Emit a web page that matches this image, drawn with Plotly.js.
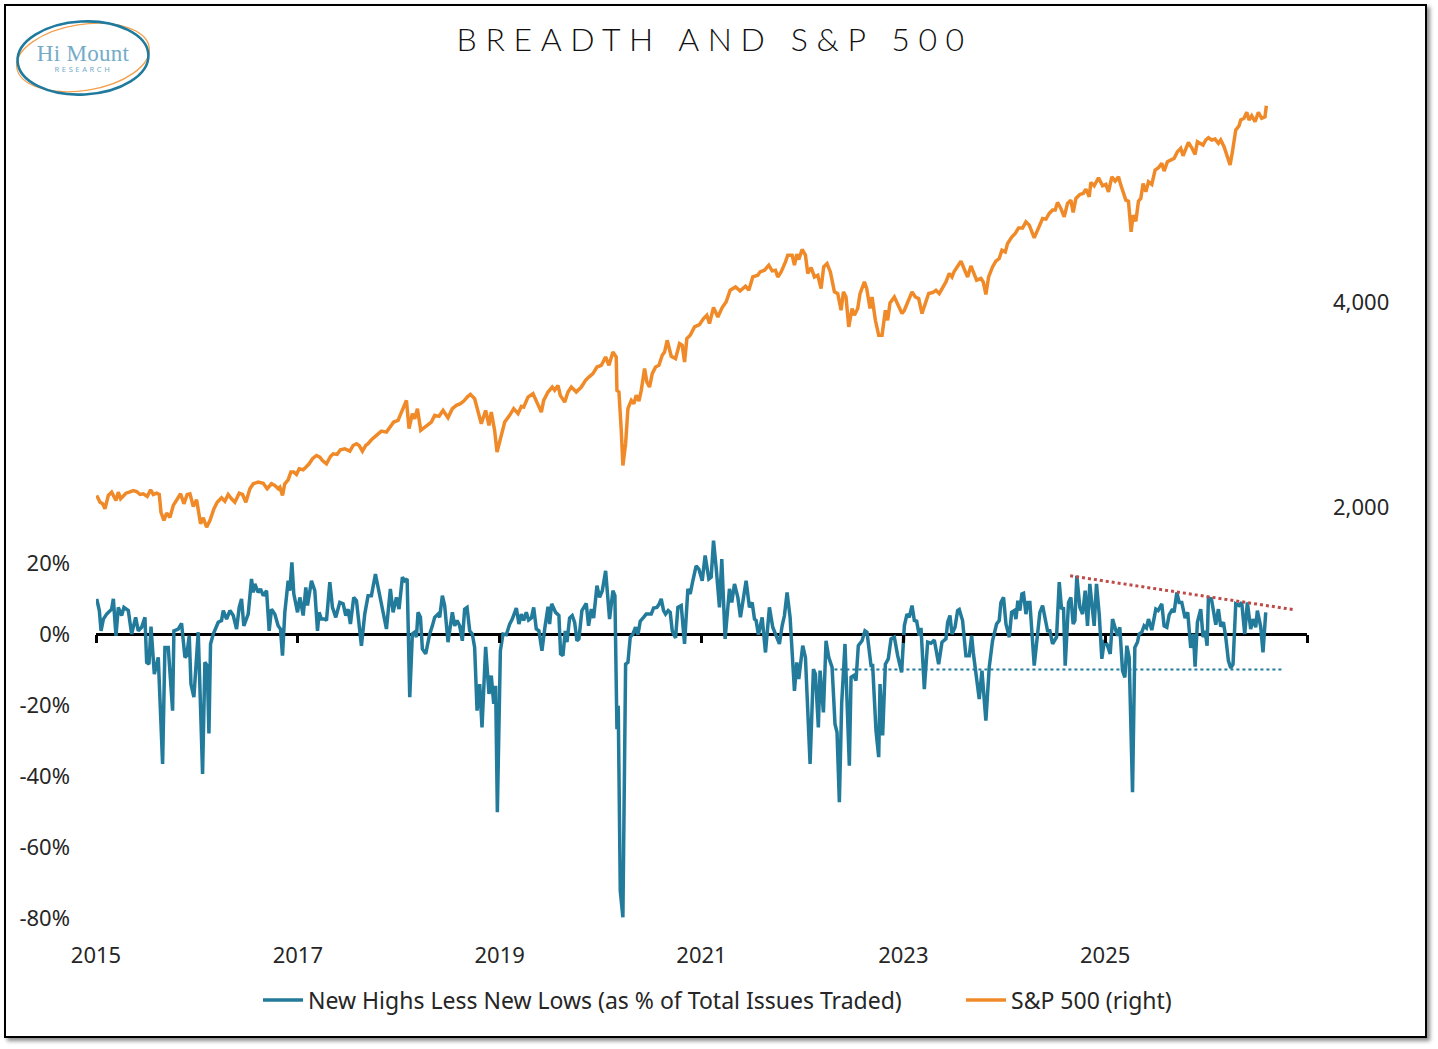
<!DOCTYPE html>
<html>
<head>
<meta charset="utf-8">
<script src="https://cdn.plot.ly/plotly-3.0.1.min.js"></script>
<style>
  html, body { margin: 0; padding: 0; background: #ffffff; }
  #frame {
    position: absolute; left: 4px; top: 4px; width: 1419px; height: 1030px;
    border: 2px solid #000000; box-shadow: 3px 3px 4px rgba(0, 0, 0, 0.45);
    background: #ffffff;
  }
  #chart { position: absolute; left: 0; top: 0; width: 1438px; height: 1049px; }
  #chart .gtitle { letter-spacing: 0.27em; }
  #chart g.annotation[data-index="1"] text { letter-spacing: 2.6px; }
  #chart g.annotation[data-index="0"] text { letter-spacing: 0.3px; }
</style>
</head>
<body>
<div id="frame"></div>
<div id="chart"></div>
<script>
// ------------------------------------------------------------------------------
// DATA (x in decimal years)

// New highs less new lows, % of total issues traded (left axis)
const breadthYears = [
  2015.007, 2015.033, 2015.050, 2015.073, 2015.106, 2015.155, 2015.172, 2015.198, 2015.221, 2015.254,
  2015.277, 2015.320, 2015.353, 2015.393, 2015.419, 2015.452, 2015.485, 2015.502, 2015.525, 2015.545,
  2015.578, 2015.617, 2015.660, 2015.683, 2015.716, 2015.759, 2015.772, 2015.815, 2015.848, 2015.881,
  2015.898, 2015.924, 2015.941, 2015.970, 2016.013, 2016.056, 2016.079, 2016.102, 2016.119, 2016.135,
  2016.162, 2016.211, 2016.244, 2016.261, 2016.294, 2016.327, 2016.360, 2016.393, 2016.419, 2016.442,
  2016.465, 2016.508, 2016.541, 2016.558, 2016.574, 2016.607, 2016.630, 2016.657, 2016.690, 2016.716,
  2016.739, 2016.772, 2016.805, 2016.828, 2016.848, 2016.871, 2016.904, 2016.921, 2016.941, 2016.960,
  2016.997, 2017.020, 2017.053, 2017.079, 2017.096, 2017.135, 2017.168, 2017.195, 2017.211, 2017.234,
  2017.267, 2017.284, 2017.317, 2017.343, 2017.376, 2017.416, 2017.449, 2017.475, 2017.498, 2017.521,
  2017.554, 2017.581, 2017.630, 2017.663, 2017.696, 2017.729, 2017.769, 2017.795, 2017.828, 2017.878,
  2017.917, 2017.944, 2017.977, 2018.003, 2018.036, 2018.059, 2018.083, 2018.109, 2018.135, 2018.158,
  2018.175, 2018.191, 2018.215, 2018.234, 2018.267, 2018.307, 2018.333, 2018.356, 2018.389, 2018.406,
  2018.432, 2018.455, 2018.488, 2018.531, 2018.554, 2018.578, 2018.604, 2018.630, 2018.653, 2018.677,
  2018.703, 2018.729, 2018.752, 2018.776, 2018.802, 2018.825, 2018.861, 2018.894, 2018.917, 2018.941,
  2018.960, 2018.977, 2019.007, 2019.033, 2019.066, 2019.099, 2019.125, 2019.165, 2019.191, 2019.215,
  2019.238, 2019.264, 2019.287, 2019.314, 2019.337, 2019.363, 2019.389, 2019.419, 2019.446, 2019.479,
  2019.495, 2019.515, 2019.554, 2019.587, 2019.604, 2019.627, 2019.650, 2019.667, 2019.693, 2019.719,
  2019.743, 2019.766, 2019.785, 2019.815, 2019.858, 2019.881, 2019.908, 2019.931, 2019.964, 2019.990,
  2020.017, 2020.050, 2020.089, 2020.122, 2020.142, 2020.162, 2020.175, 2020.195, 2020.221, 2020.248,
  2020.271, 2020.294, 2020.320, 2020.347, 2020.370, 2020.393, 2020.426, 2020.452, 2020.502, 2020.525,
  2020.558, 2020.578, 2020.601, 2020.624, 2020.644, 2020.670, 2020.690, 2020.710, 2020.743, 2020.766,
  2020.799, 2020.832, 2020.865, 2020.888, 2020.914, 2020.947, 2020.974, 2021.007, 2021.036, 2021.073,
  2021.096, 2021.119, 2021.145, 2021.178, 2021.201, 2021.234, 2021.277, 2021.300, 2021.327, 2021.360,
  2021.386, 2021.442, 2021.475, 2021.502, 2021.525, 2021.541, 2021.564, 2021.601, 2021.634, 2021.673,
  2021.706, 2021.746, 2021.772, 2021.799, 2021.822, 2021.848, 2021.878, 2021.921, 2021.944, 2021.964,
  2022.003, 2022.030, 2022.076, 2022.109, 2022.129, 2022.158, 2022.175, 2022.208, 2022.234, 2022.261,
  2022.294, 2022.323, 2022.343, 2022.366, 2022.389, 2022.422, 2022.465, 2022.482, 2022.508, 2022.531,
  2022.554, 2022.591, 2022.620, 2022.640, 2022.680, 2022.696, 2022.729, 2022.756, 2022.769, 2022.795,
  2022.822, 2022.851, 2022.878, 2022.911, 2022.944, 2022.983, 2023.010, 2023.036, 2023.059, 2023.086,
  2023.109, 2023.132, 2023.158, 2023.175, 2023.208, 2023.241, 2023.274, 2023.307, 2023.350, 2023.383,
  2023.422, 2023.439, 2023.462, 2023.482, 2023.512, 2023.538, 2023.554, 2023.587, 2023.620, 2023.653,
  2023.677, 2023.693, 2023.713, 2023.752, 2023.779, 2023.818, 2023.851, 2023.884, 2023.924, 2023.950,
  2023.967, 2023.993, 2024.017, 2024.050, 2024.073, 2024.099, 2024.116, 2024.135, 2024.155, 2024.175,
  2024.191, 2024.215, 2024.234, 2024.254, 2024.297, 2024.330, 2024.353, 2024.380, 2024.406, 2024.429,
  2024.452, 2024.479, 2024.518, 2024.545, 2024.568, 2024.587, 2024.604, 2024.637, 2024.660, 2024.683,
  2024.700, 2024.719, 2024.749, 2024.776, 2024.802, 2024.825, 2024.848, 2024.868, 2024.891, 2024.914,
  2024.941, 2024.967, 2024.990, 2025.017, 2025.050, 2025.073, 2025.099, 2025.122, 2025.145, 2025.172,
  2025.195, 2025.215, 2025.238, 2025.254, 2025.271, 2025.294, 2025.320, 2025.337, 2025.363, 2025.386,
  2025.409, 2025.429, 2025.462, 2025.502, 2025.525, 2025.561, 2025.584, 2025.611, 2025.634, 2025.667,
  2025.683, 2025.710, 2025.733, 2025.759, 2025.792, 2025.818, 2025.848, 2025.875, 2025.891, 2025.914,
  2025.947, 2025.970, 2025.990, 2026.010, 2026.023, 2026.053, 2026.096, 2026.122, 2026.145, 2026.172,
  2026.195, 2026.221, 2026.244, 2026.267, 2026.294, 2026.327, 2026.353, 2026.383, 2026.409, 2026.442,
  2026.465, 2026.492, 2026.508, 2026.541, 2026.564, 2026.591
];
const breadthPct = [
  9.9, 6.6, 0.9, 4.2, 5.6, 7.0, 9.9, -0.5, 7.5, 5.2,
  7.5, 6.6, 0, 4.7, 0.9, 1.9, 4.7, -8.0, -8.5, 2.1,
  -11.3, -6.6, -36.6, -3.8, -3.8, -21.6, 0.9, 1.4, 3.0, -6.6,
  -6.1, -0.5, -14.1, -17.8, 0.5, -39.4, -8.0, -8.9, -28.0, -2.8,
  0, 3.3, 3.8, 6.6, 4.2, 6.6, 5.2, 1.4, 7.5, 9.9,
  2.3, 5.6, 15.5, 11.7, 14.1, 11.7, 12.7, 10.8, 12.2, 0.9,
  7.0, 5.6, 2.3, 1.4, -6.1, 6.1, 15.0, 12.2, 20.2, 11.3,
  6.1, 10.3, 5.2, 13.1, 8.0, 15.0, 12.2, 0.9, 6.1, 4.2,
  4.2, 3.8, 14.6, 7.5, 4.7, 8.9, 8.5, 5.2, 7.0, 2.8,
  10.3, 9.4, -3.3, 5.6, 10.8, 10.8, 16.9, 13.1, 8.0, 1.4,
  12.7, 6.1, 10.3, 7.0, 16.0, 15.0, 15.5, -17.8, 0, 0.5,
  -0.9, 6.1, 4.7, -4.2, -5.6, 0, 2.3, 4.7, 5.6, 4.7,
  10.8, 8.0, -2.3, 6.1, 2.3, 3.8, 2.3, -1.9, 7.0, 7.5,
  0.9, 0, -3.8, -21.6, -14.1, -26.3, -3.6, -16.9, -11.7, -19.7,
  -14.6, -50.2, -4.7, 0, -0.2, 2.8, 4.2, 7.3, 2.8, 5.6,
  3.8, 6.1, 3.9, 4.5, 7.5, 1.4, 0.9, -4.7, 1.4, 7.7,
  2.8, 8.5, 6.1, 5.2, -5.6, -6.1, 0.9, -2.3, 4.5, 5.2,
  3.3, -1.9, -1.4, 6.6, 8.6, 2.3, 7.0, 4.5, 13.6, 10.3,
  12.2, 17.8, 4.2, 12.2, 10.8, -26.8, -20.2, -72.3, -79.8, -8.5,
  -8.0, -0.9, 0, 1.9, -0.2, 3.6, 4.7, 5.6, 5.6, 7.3,
  7.5, 8.3, 9.9, 6.6, 5.6, 6.6, 6.1, 0.9, -1.1, 7.5,
  8.0, -2.8, 12.7, 11.3, 15.0, 19.2, 18.3, 15.0, 22.1, 15.5,
  16.0, 26.3, 18.8, 7.5, 21.1, -1.4, 12.7, 8.9, 14.1, 10.3,
  4.7, 15.0, 7.5, 8.9, 4.2, 3.8, -0.2, 4.7, -5.2, 7.5,
  1.9, -0.9, -2.8, 2.3, 5.2, 11.7, 4.7, -16.0, -8.0, -12.7,
  -3.3, -6.6, -36.6, -9.9, -11.3, -26.3, -10.3, -22.1, -1.9, -6.6,
  -9.4, -25.4, -27.7, -47.4, -19.7, -2.8, -37.1, -12.2, -11.7, -13.1,
  -3.3, -1.9, 0.9, 0.5, -8.9, -8.9, -27.2, -34.7, -14.1, -28.6,
  -8.5, -7.0, -1.4, -0.9, -6.1, -10.8, 2.3, 5.6, 4.7, 8.0,
  3.8, 3.6, -0.5, 1.7, -15.5, -2.3, -2.6, -1.7, -8.5, -2.3,
  -1.4, 3.3, 5.2, 0, 1.9, 6.6, 6.9, 3.8, -6.1, -6.1,
  -0.5, -5.2, -9.4, -18.3, -10.3, -24.4, -9.4, -1.9, 2.8, 3.8,
  8.9, 10.3, 2.8, -0.9, 6.1, 6.6, 4.2, 9.4, 6.6, 11.3,
  11.5, 5.6, 8.9, 8.9, -8.9, 0, 6.1, 8.0, 4.2, 0.9,
  0.9, -2.8, -0.9, 14.6, 7.0, 7.5, -8.9, 8.9, 10.3, 2.8,
  3.8, 16.4, 7.5, 5.6, 12.2, 2.3, 14.1, 9.4, 2.3, 14.1,
  5.6, -7.0, -2.3, -2.8, -5.6, 4.2, 1.9, -0.5, 1.9, -10.3,
  -12.2, -3.3, -6.6, -30.0, -44.6, -3.8, -2.3, 0, 0.5, 2.3,
  1.7, 4.2, 1.1, 7.0, 6.6, 8.5, 2.3, 1.9, 5.4, 7.0,
  6.1, 11.7, 8.9, 8.9, 4.5, 6.1, -3.9, 0, -9.2, 3.3,
  7.0, -0.9, 0.9, -3.3, 10.1, 9.9, 2.6, 7.0, 2.1, 3.3,
  -0.9, -7.5, -9.6, -8.5, 8.5, 8.0, 8.9, 0, 8.9, 1.4,
  4.2, 1.9, 6.6, 2.1, -5.2, 6.1
];

// S&P 500 index level (right axis, log scale)
const spxYears = [
  2015.007, 2015.040, 2015.066, 2015.089, 2015.122, 2015.155, 2015.198, 2015.221, 2015.244, 2015.271,
  2015.297, 2015.330, 2015.370, 2015.403, 2015.436, 2015.469, 2015.508, 2015.541, 2015.568, 2015.601,
  2015.627, 2015.644, 2015.673, 2015.700, 2015.733, 2015.766, 2015.805, 2015.838, 2015.871, 2015.904,
  2015.931, 2015.964, 2015.997, 2016.036, 2016.063, 2016.096, 2016.129, 2016.168, 2016.201, 2016.244,
  2016.277, 2016.310, 2016.343, 2016.376, 2016.419, 2016.452, 2016.485, 2016.525, 2016.558, 2016.607,
  2016.657, 2016.696, 2016.739, 2016.772, 2016.805, 2016.822, 2016.848, 2016.871, 2016.904, 2016.931,
  2016.960, 2016.987, 2017.013, 2017.053, 2017.079, 2017.112, 2017.145, 2017.185, 2017.218, 2017.244,
  2017.284, 2017.323, 2017.350, 2017.389, 2017.422, 2017.465, 2017.515, 2017.548, 2017.581, 2017.607,
  2017.640, 2017.673, 2017.696, 2017.729, 2017.779, 2017.828, 2017.878, 2017.911, 2017.950, 2017.993,
  2018.026, 2018.076, 2018.102, 2018.135, 2018.158, 2018.185, 2018.218, 2018.257, 2018.290, 2018.323,
  2018.356, 2018.399, 2018.439, 2018.488, 2018.531, 2018.571, 2018.611, 2018.644, 2018.686, 2018.710,
  2018.752, 2018.785, 2018.818, 2018.861, 2018.894, 2018.917, 2018.950, 2018.974, 2019.007, 2019.050,
  2019.099, 2019.139, 2019.182, 2019.215, 2019.238, 2019.281, 2019.330, 2019.370, 2019.413, 2019.436,
  2019.479, 2019.521, 2019.545, 2019.578, 2019.601, 2019.644, 2019.677, 2019.710, 2019.759, 2019.809,
  2019.851, 2019.884, 2019.924, 2019.964, 2020.007, 2020.050, 2020.083, 2020.122, 2020.155, 2020.162,
  2020.182, 2020.205, 2020.221, 2020.248, 2020.271, 2020.304, 2020.330, 2020.353, 2020.380, 2020.403,
  2020.436, 2020.459, 2020.485, 2020.512, 2020.545, 2020.578, 2020.611, 2020.634, 2020.660, 2020.700,
  2020.743, 2020.782, 2020.809, 2020.832, 2020.855, 2020.888, 2020.931, 2020.980, 2021.020, 2021.053,
  2021.079, 2021.119, 2021.162, 2021.205, 2021.244, 2021.284, 2021.337, 2021.383, 2021.436, 2021.469,
  2021.508, 2021.558, 2021.581, 2021.624, 2021.667, 2021.700, 2021.733, 2021.756, 2021.789, 2021.832,
  2021.855, 2021.898, 2021.921, 2021.944, 2021.964, 2021.997, 2022.030, 2022.053, 2022.086, 2022.119,
  2022.152, 2022.185, 2022.211, 2022.244, 2022.277, 2022.317, 2022.350, 2022.383, 2022.406, 2022.432,
  2022.459, 2022.492, 2022.515, 2022.548, 2022.571, 2022.614, 2022.637, 2022.670, 2022.690, 2022.723,
  2022.756, 2022.789, 2022.822, 2022.845, 2022.868, 2022.911, 2022.960, 2022.987, 2023.010, 2023.043,
  2023.086, 2023.119, 2023.152, 2023.185, 2023.224, 2023.251, 2023.290, 2023.323, 2023.356, 2023.396,
  2023.422, 2023.455, 2023.482, 2023.505, 2023.538, 2023.571, 2023.604, 2023.637, 2023.670, 2023.693,
  2023.726, 2023.769, 2023.792, 2023.818, 2023.845, 2023.884, 2023.917, 2023.950, 2023.977, 2024.010,
  2024.033, 2024.076, 2024.109, 2024.142, 2024.182, 2024.215, 2024.248, 2024.297, 2024.340, 2024.380,
  2024.413, 2024.446, 2024.479, 2024.505, 2024.528, 2024.561, 2024.594, 2024.627, 2024.660, 2024.683,
  2024.710, 2024.749, 2024.782, 2024.809, 2024.842, 2024.858, 2024.891, 2024.934, 2024.974, 2025.007,
  2025.033, 2025.066, 2025.099, 2025.132, 2025.155, 2025.178, 2025.205, 2025.231, 2025.257, 2025.277,
  2025.304, 2025.330, 2025.353, 2025.376, 2025.403, 2025.429, 2025.462, 2025.495, 2025.528, 2025.561,
  2025.584, 2025.617, 2025.650, 2025.683, 2025.716, 2025.749, 2025.772, 2025.799, 2025.825, 2025.858,
  2025.891, 2025.914, 2025.947, 2025.970, 2025.997, 2026.023, 2026.056, 2026.089, 2026.122, 2026.145,
  2026.178, 2026.238, 2026.261, 2026.294, 2026.327, 2026.343, 2026.376, 2026.403, 2026.426, 2026.452,
  2026.485, 2026.518, 2026.551, 2026.584, 2026.597
];
const spxLevel = [
  2083, 2036, 2025, 1991, 2083, 2106, 2048, 2106, 2060, 2083,
  2099, 2106, 2118, 2111, 2090, 2095, 2076, 2123, 2090, 2099,
  2090, 1968, 1914, 1962, 1935, 2014, 2060, 2095, 2025, 2090,
  2095, 2007, 2053, 1893, 1932, 1871, 1914, 1991, 2036, 2067,
  2043, 2090, 2060, 2036, 2099, 2090, 2036, 2131, 2167, 2179,
  2171, 2131, 2167, 2154, 2131, 2142, 2083, 2167, 2196, 2254,
  2254, 2236, 2280, 2272, 2292, 2318, 2358, 2384, 2371, 2344,
  2318, 2376, 2398, 2393, 2431, 2439, 2419, 2466, 2481, 2466,
  2419, 2466, 2481, 2514, 2551, 2589, 2580, 2624, 2669, 2684,
  2760, 2872, 2610, 2746, 2699, 2792, 2595, 2624, 2654, 2669,
  2730, 2721, 2776, 2709, 2792, 2824, 2840, 2865, 2911, 2931,
  2888, 2760, 2654, 2776, 2639, 2760, 2595, 2411, 2523, 2669,
  2730, 2792, 2746, 2814, 2807, 2904, 2938, 2855, 2760, 2872,
  2954, 3004, 2971, 3021, 2921, 2855, 2954, 3004, 2954, 3004,
  3073, 3107, 3143, 3214, 3233, 3325, 3233, 3381, 3325, 2971,
  2954, 2595, 2305, 2481, 2792, 2872, 2840, 2921, 2865, 2971,
  3197, 3055, 3004, 3143, 3214, 3233, 3344, 3381, 3518, 3333,
  3307, 3479, 3459, 3269, 3538, 3578, 3680, 3710, 3786, 3828,
  3722, 3929, 3806, 3929, 4004, 4166, 4212, 4156, 4222, 4166,
  4357, 4382, 4432, 4457, 4533, 4447, 4457, 4357, 4432, 4584,
  4689, 4689, 4533, 4705, 4621, 4780, 4689, 4408, 4498, 4357,
  4382, 4190, 4507, 4559, 4432, 4142, 4119, 3893, 4142, 4072,
  3680, 3916, 3828, 3916, 4119, 4284, 4190, 3916, 4072, 3764,
  3578, 3578, 3893, 3764, 3990, 4072, 3916, 3850, 3893, 4004,
  4142, 4072, 4050, 3850, 4004, 4119, 4133, 4166, 4119, 4212,
  4284, 4408, 4357, 4442, 4522, 4595, 4472, 4357, 4522, 4442,
  4309, 4334, 4284, 4106, 4357, 4507, 4595, 4637, 4769, 4742,
  4878, 4988, 5046, 5142, 5142, 5248, 5190, 4971, 5160, 5308,
  5296, 5399, 5460, 5460, 5604, 5491, 5337, 5585, 5647, 5417,
  5680, 5757, 5777, 5861, 5711, 5996, 5927, 6090, 5927, 5955,
  5808, 6110, 6022, 6110, 5941, 5808, 5647, 5628, 5073, 5368,
  5260, 5628, 5680, 5975, 5808, 6008, 5955, 6250, 6299, 6394,
  6229, 6428, 6465, 6503, 6649, 6726, 6560, 6726, 6864, 6740,
  6591, 6878, 6841, 6802, 6918, 6972, 6918, 6941, 6841, 6918,
  6763, 6357, 6649, 7155, 7260, 7401, 7444, 7597, 7401, 7510,
  7359, 7597, 7444, 7484, 7768
];

// Hand-drawn guides on the breadth panel
const trendYears   = [2024.653, 2026.881];   // falling highs (red dots)
const trendPct     = [16.4, 6.8];
const supportYears = [2022.317, 2026.752];   // -10% floor (blue dots)
const supportPct   = [-10, -10];

// Axes
const yearTicks      = [2015, 2017, 2019, 2021, 2023, 2025];
const yearTickText   = ['2015', '2017', '2019', '2021', '2023', '2025'];
const stubTicks      = [2015, 2017, 2019, 2021, 2023, 2025, 2027];
const pctTicks       = [-80, -60, -40, -20, 0, 20];
const pctTickText    = ['-80%', '-60%', '-40%', '-20%', '0%', '20%'];
const spxTicks       = [2000, 4000];
const spxTickText    = ['2,000', '4,000'];

// ------------------------------------------------------------------------------
// STYLE

const font_family = '"Noto Sans", "Open Sans", sans-serif';
const text_color  = '#262626';
const blue        = '#237b9c';
const orange      = '#f08a28';
const red         = '#bf4b48';

// plot area sits at x 96..1307, y 97..918 of a 1438x1049 page
const pct_range = [-80, 151.27];
const zero_pos  = (0 - pct_range[0]) / (pct_range[1] - pct_range[0]);

const logo_svg =
  '<svg xmlns="http://www.w3.org/2000/svg" width="146" height="88" viewBox="0 0 146 88">' +
  '<ellipse cx="73" cy="43.5" rx="67" ry="33" transform="rotate(-9 73 43.5)" fill="none" stroke="#f3a14f" stroke-width="1.3"/>' +
  '<ellipse cx="73" cy="44" rx="65.5" ry="36.5" transform="rotate(-3 73 44)" fill="none" stroke="#1f7a9e" stroke-width="2.6"/>' +
  '</svg>';

// ------------------------------------------------------------------------------
// TRACES

const breadth_trace = {
  name: 'New Highs Less New Lows (as % of Total Issues Traded)',
  legend: 'legend',
  x: breadthYears,
  y: breadthPct,
  type: 'scatter',
  mode: 'lines',
  line: { color: blue, width: 3.5 },
  xaxis: 'x2',
  yaxis: 'y',
  hoverinfo: 'skip'
};

const spx_trace = {
  name: 'S&P 500 (right)',
  legend: 'legend2',
  x: spxYears,
  y: spxLevel,
  type: 'scatter',
  mode: 'lines',
  line: { color: orange, width: 3.5 },
  xaxis: 'x',
  yaxis: 'y2',
  hoverinfo: 'skip'
};

const support_trace = {
  showlegend: false,
  x: supportYears,
  y: supportPct,
  type: 'scatter',
  mode: 'lines',
  line: { color: blue, width: 2, dash: 'dot' },
  xaxis: 'x2',
  yaxis: 'y',
  hoverinfo: 'skip'
};

const trend_trace = {
  showlegend: false,
  x: trendYears,
  y: trendPct,
  type: 'scatter',
  mode: 'lines',
  line: { color: red, width: 3, dash: 'dot' },
  xaxis: 'x2',
  yaxis: 'y',
  hoverinfo: 'skip'
};

// ------------------------------------------------------------------------------
// LAYOUT

const legend_common = {
  orientation: 'h',
  xref: 'container',
  xanchor: 'left',
  y: 0.0467,
  yref: 'container',
  yanchor: 'middle',
  font: { family: font_family, size: 23, color: text_color },
  itemwidth: 40,
  bgcolor: 'rgba(0,0,0,0)'
};

const layout = {
  width: 1438,
  height: 1049,
  paper_bgcolor: 'rgba(0,0,0,0)',
  plot_bgcolor: 'rgba(0,0,0,0)',
  margin: { l: 96, r: 131, t: 97, b: 131 },
  font: { family: font_family, color: text_color, size: 22 },
  title: {
    text: 'BREADTH AND S&P 500',
    x: 0.497,
    xref: 'container',
    xanchor: 'center',
    y: 0.962,
    yref: 'container',
    yanchor: 'middle',
    font: { family: 'Lato, "Open Sans", sans-serif', size: 32, weight: 300, color: '#111111' }
  },
  showlegend: true,
  legend:  Object.assign({}, legend_common, { x: 258 / 1438 }),
  legend2: Object.assign({}, legend_common, { x: 961 / 1438 }),
  xaxis: {
    range: [2015, 2027],
    tickvals: yearTicks,
    ticktext: yearTickText,
    ticks: '',
    ticklabelstandoff: 22,
    showgrid: false,
    zeroline: false,
    showline: false,
    tickfont: { size: 22, color: text_color }
  },
  xaxis2: {
    overlaying: 'x',
    matches: 'x',
    anchor: 'free',
    position: zero_pos,
    tickvals: stubTicks,
    ticks: 'outside',
    ticklen: 8,
    tickwidth: 3,
    tickcolor: '#000000',
    showticklabels: false,
    showgrid: false,
    zeroline: false,
    showline: false
  },
  yaxis: {
    range: pct_range,
    tickvals: pctTicks,
    ticktext: pctTickText,
    ticks: '',
    ticklabelstandoff: 25,
    showgrid: false,
    showline: false,
    zeroline: true,
    zerolinecolor: '#000000',
    zerolinewidth: 3,
    tickfont: { size: 22, color: text_color }
  },
  yaxis2: {
    overlaying: 'y',
    side: 'right',
    anchor: 'x',
    type: 'log',
    range: [Math.log10(500), Math.log10(8000)],
    tickvals: spxTicks,
    ticktext: spxTickText,
    ticks: '',
    ticklabelstandoff: 25,
    showgrid: false,
    showline: false,
    zeroline: false,
    tickfont: { size: 22, color: text_color }
  },
  images: [
    {
      source: 'data:image/svg+xml;charset=utf-8,' + encodeURIComponent(logo_svg),
      xref: 'paper', yref: 'paper',
      x: -0.07102, y: 1.10110,
      sizex: 0.12056, sizey: 0.10719,
      xanchor: 'left', yanchor: 'top',
      sizing: 'stretch',
      layer: 'above'
    }
  ],
  annotations: [
    {
      text: 'Hi Mount',
      xref: 'paper', yref: 'paper',
      x: -0.01073, y: 1.05238,
      xanchor: 'center', yanchor: 'middle',
      showarrow: false,
      font: { family: '"Liberation Serif", "DejaVu Serif", serif', size: 23, color: '#74abc9' }
    },
    {
      text: 'RESEARCH',
      xref: 'paper', yref: 'paper',
      x: -0.01073, y: 1.03410,
      xanchor: 'center', yanchor: 'middle',
      showarrow: false,
      font: { family: font_family, size: 7.5, color: '#74abc9' }
    }
  ]
};

const config = { displayModeBar: false, staticPlot: true };

Plotly.newPlot('chart', [breadth_trace, spx_trace, support_trace, trend_trace], layout, config);
</script>
</body>
</html>
